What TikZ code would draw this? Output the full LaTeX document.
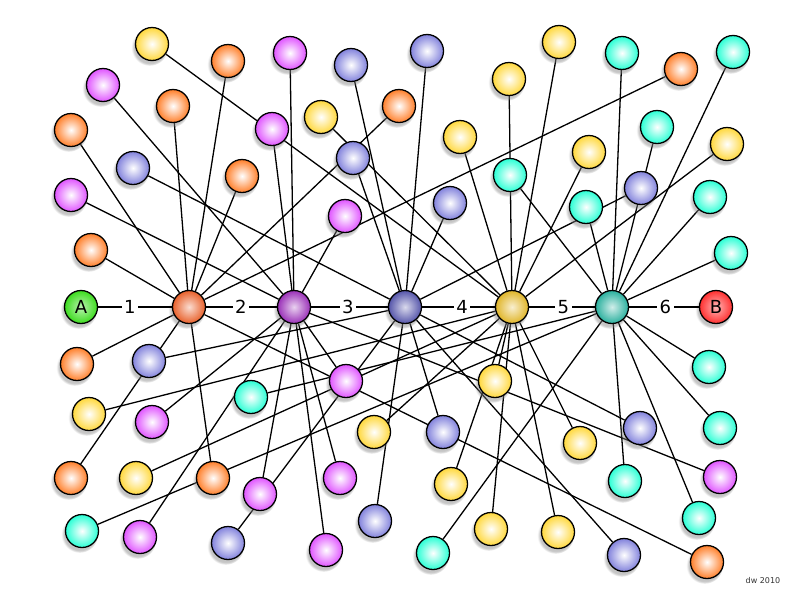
\documentclass[tikz,border=0pt]{standalone}
\usepackage{fontspec}
\setmainfont{DejaVu Sans}
\usetikzlibrary{shadows}
\pgfdeclarelayer{edges}
\pgfdeclarelayer{bg}
\pgfsetlayers{bg,edges,main}
\definecolor{cor}{HTML}{FF7F2A}
\definecolor{cma}{HTML}{E055FF}
\definecolor{cbl}{HTML}{8282DC}
\definecolor{cye}{HTML}{FFD83C}
\definecolor{cte}{HTML}{2AFFD5}
\definecolor{cgr}{HTML}{3CDC1E}
\definecolor{crd}{HTML}{FF3030}
\definecolor{hor}{HTML}{E8602A}
\definecolor{hma}{HTML}{9A30B8}
\definecolor{hbl}{HTML}{5555AA}
\definecolor{hye}{HTML}{E0B528}
\definecolor{hte}{HTML}{2AB09E}
\begin{document}
\begin{tikzpicture}[x=1pt,y=-1pt,
  ball/.style={circle, draw=black, line width=1.3pt, minimum size=33pt, inner sep=0pt,
    circular drop shadow={shadow xshift=-2pt, shadow yshift=-3pt, opacity=0.45, shadow scale=1.12}},
  po/.style={ball, inner color=white, outer color=cor},
  pm/.style={ball, inner color=white, outer color=cma},
  pb/.style={ball, inner color=white, outer color=cbl},
  py/.style={ball, inner color=white, outer color=cye},
  pt/.style={ball, inner color=white, outer color=cte},
  hub/.style={ball, inner color=#1!22!white, outer color=#1},
  ends/.style={ball, inner color=#1!35!white, outer color=#1, font=\fontsize{18}{20}\selectfont},
  edge/.style={draw=black, line width=1.3pt},
  lab/.style={fill=white, inner xsep=2.5pt, inner ysep=0pt, font=\fontsize{18}{20}\selectfont}]
\useasboundingbox (0,0) rectangle (800,600);
\begin{pgfonlayer}{bg}
\fill[white] (0,0) rectangle (800,600);
\end{pgfonlayer}
% main chain
\node[ends=cgr] (A) at (81,307) {A};
\node[hub=hor] (H1) at (189,307) {};
\node[hub=hma] (H2) at (294,307) {};
\node[hub=hbl] (H3) at (405,307) {};
\node[hub=hye] (H4) at (512,307) {};
\node[hub=hte] (H5) at (612,307) {};
\node[ends=crd] (B) at (716,307) {B};
% orange
\node[po] (o1) at (228,61) {};
\node[po] (o2) at (173,106) {};
\node[po] (o3) at (71,130) {};
\node[po] (o4) at (242,176) {};
\node[po] (o5) at (91,250) {};
\node[po] (o6) at (399,106) {};
\node[po] (o7) at (681,69) {};
\node[po] (o8) at (77,364) {};
\node[po] (o9) at (71,478) {};
\node[po] (o10) at (213,478) {};
\node[po] (o11) at (707,562) {};
% magenta
\node[pm] (m1) at (103,85) {};
\node[pm] (m2) at (290,53) {};
\node[pm] (m3) at (272,129) {};
\node[pm] (m4) at (71,195) {};
\node[pm] (m5) at (345,216) {};
\node[pm] (m6) at (346,381) {};
\node[pm] (m7) at (152,422) {};
\node[pm] (m8) at (140,537) {};
\node[pm] (m9) at (260,494) {};
\node[pm] (m10) at (340,478) {};
\node[pm] (m11) at (326,550) {};
\node[pm] (m12) at (720,477) {};
% blue
\node[pb] (b1) at (351,65) {};
\node[pb] (b2) at (427,51) {};
\node[pb] (b3) at (353,158) {};
\node[pb] (b4) at (133,168) {};
\node[pb] (b5) at (450,203) {};
\node[pb] (b6) at (641,188) {};
\node[pb] (b7) at (149,361) {};
\node[pb] (b8) at (443,432) {};
\node[pb] (b9) at (640,428) {};
\node[pb] (b10) at (375,521) {};
\node[pb] (b11) at (228,543) {};
\node[pb] (b12) at (624,555) {};
% yellow
\node[py] (y1) at (152,44) {};
\node[py] (y2) at (321,117) {};
\node[py] (y3) at (460,137) {};
\node[py] (y4) at (509,79) {};
\node[py] (y5) at (559,42) {};
\node[py] (y6) at (589,152) {};
\node[py] (y7) at (727,144) {};
\node[py] (y8) at (495,381) {};
\node[py] (y9) at (374,432) {};
\node[py] (y10) at (580,443) {};
\node[py] (y11) at (451,484) {};
\node[py] (y12) at (491,529) {};
\node[py] (y13) at (558,532) {};
\node[py] (y14) at (136,478) {};
\node[py] (y15) at (89,414) {};
% teal
\node[pt] (t1) at (622,53) {};
\node[pt] (t2) at (733,52) {};
\node[pt] (t3) at (657,127) {};
\node[pt] (t4) at (510,175) {};
\node[pt] (t5) at (586,207) {};
\node[pt] (t6) at (710,197) {};
\node[pt] (t7) at (731,253) {};
\node[pt] (t8) at (709,367) {};
\node[pt] (t9) at (720,428) {};
\node[pt] (t10) at (625,481) {};
\node[pt] (t11) at (699,518) {};
\node[pt] (t12) at (433,553) {};
\node[pt] (t13) at (82,531) {};
\node[pt] (t14) at (251,397) {};
\node[font=\fontsize{8}{9}\selectfont, text=black!80] (sig) at (763,581) {dw 2010};
\begin{pgfonlayer}{edges}
\foreach \n in {o1,o2,o3,o4,o5,o6,o7,o8,o9,o10,o11} \draw[edge] (\n) -- (H1);
\foreach \n in {m1,m2,m3,m4,m5,m6,m7,m8,m9,m10,m11,m12} \draw[edge] (\n) -- (H2);
\foreach \n in {b1,b2,b3,b4,b5,b6,b7,b8,b9,b10,b11,b12} \draw[edge] (\n) -- (H3);
\foreach \n in {y1,y2,y3,y4,y5,y6,y7,y8,y9,y10,y11,y12,y13,y14,y15} \draw[edge] (\n) -- (H4);
\foreach \n in {t1,t2,t3,t4,t5,t6,t7,t8,t9,t10,t11,t12,t13,t14} \draw[edge] (\n) -- (H5);
\end{pgfonlayer}
\draw[edge] (A) -- node[lab,pos=0.43] {1} (H1);
\draw[edge] (H1) -- node[lab,pos=0.49] {2} (H2);
\draw[edge] (H2) -- node[lab,pos=0.48] {3} (H3);
\draw[edge] (H3) -- node[lab,pos=0.55] {4} (H4);
\draw[edge] (H4) -- node[lab,pos=0.52] {5} (H5);
\draw[edge] (H5) -- node[lab,pos=0.52] {6} (B);
\end{tikzpicture}
\end{document}
